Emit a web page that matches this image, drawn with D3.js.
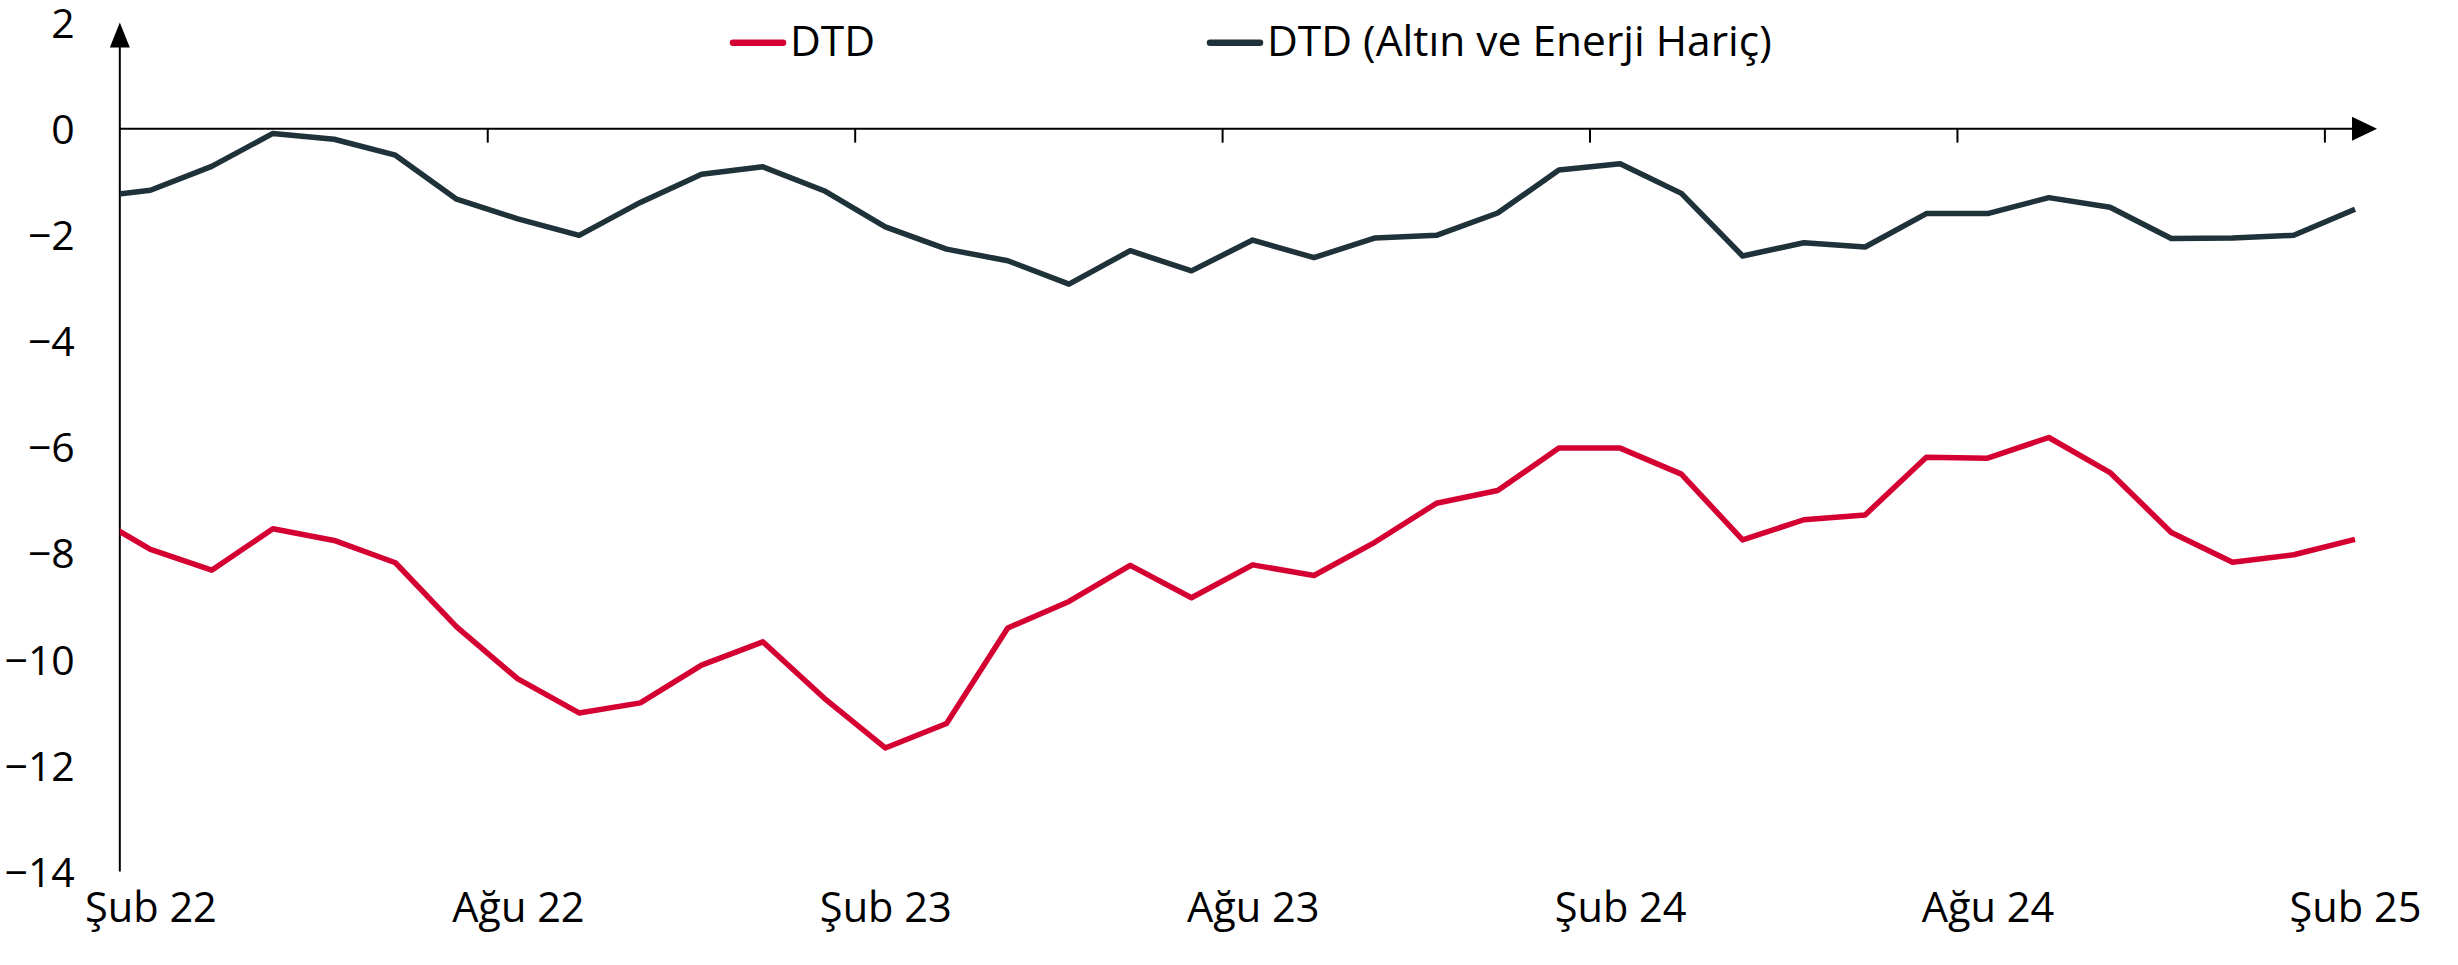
<!DOCTYPE html>
<html>
<head>
<meta charset="utf-8">
<script src="https://cdn.jsdelivr.net/npm/d3@7"></script>
<style>
  body { margin: 0; background: #fff; }
  svg text { font-family: "Open Sans", sans-serif; fill: #000; }
</style>
</head>
<body>
<svg id="chart"></svg>
<script>
// Aylar (ilk nokta Oca 22, eksen tarafından kırpılıyor)
const months = [
  "Oca 22", "Şub 22", "Mar 22", "Nis 22", "May 22", "Haz 22", "Tem 22", "Ağu 22", "Eyl 22", "Eki 22", "Kas 22", "Ara 22",
  "Oca 23", "Şub 23", "Mar 23", "Nis 23", "May 23", "Haz 23", "Tem 23", "Ağu 23", "Eyl 23", "Eki 23", "Kas 23", "Ara 23",
  "Oca 24", "Şub 24", "Mar 24", "Nis 24", "May 24", "Haz 24", "Tem 24", "Ağu 24", "Eyl 24", "Eki 24", "Kas 24", "Ara 24",
  "Oca 25", "Şub 25"
];

const dtd = [
  -7.25, -7.93, -8.32, -7.54, -7.76, -8.18, -9.39, -10.37, -11.01, -10.82, -10.11, -9.67,
  -10.73, -11.67, -11.21, -9.41, -8.91, -8.23, -8.84, -8.22, -8.42, -7.79, -7.06, -6.82,
  -6.02, -6.02, -6.51, -7.75, -7.37, -7.28, -6.19, -6.21, -5.82, -6.48, -7.61, -8.17,
  -8.03, -7.74
];

const dtdCore = [
  -1.30, -1.16, -0.71, -0.09, -0.20, -0.50, -1.33, -1.70, -2.01, -1.39, -0.86, -0.72,
  -1.17, -1.85, -2.27, -2.49, -2.93, -2.30, -2.68, -2.10, -2.43, -2.06, -2.01, -1.59,
  -0.78, -0.66, -1.22, -2.40, -2.15, -2.23, -1.60, -1.60, -1.30, -1.48, -2.07, -2.06,
  -2.01, -1.52
];

const yTicks = [2, 0, -2, -4, -6, -8, -10, -12, -14];
const labelMonths = ["Şub 22", "Ağu 22", "Şub 23", "Ağu 23", "Şub 24", "Ağu 24", "Şub 25"];

const series = [
  { name: "DTD", values: dtd, color: "#d50032" },
  { name: "DTD (Altın ve Enerji Hariç)", values: dtdCore, color: "#1f3139" }
];

const width = 2458;
const height = 965;

const svg = d3.select("#chart")
  .attr("width", width)
  .attr("height", height);

// Ölçekler
const x = d3.scaleLinear().domain([0, months.length - 1]).range([89.2, 2355]);
const y = d3.scaleLinear().domain([-14, 2]).range([871.6, 22.5]);

const axisX = x(0.5);          // y ekseninin geçtiği yer
const xEnd = x(months.length - 1) + 22;

// Çizgiler için kırpma alanı
svg.append("defs").append("clipPath")
  .attr("id", "plot-clip")
  .append("rect")
  .attr("x", axisX)
  .attr("y", 0)
  .attr("width", width - axisX)
  .attr("height", height);

// Y ekseni etiketleri
const yAxis = svg.append("g")
  .attr("transform", `translate(${axisX},0)`)
  .call(d3.axisLeft(y).tickValues(yTicks).tickSize(0).tickPadding(45).tickFormat(d3.format("d")));
yAxis.select(".domain").remove();
yAxis.selectAll("text")
  .attr("font-size", 41)
  .attr("dy", "0.36em");

// X ekseni tik çizgileri (kategoriler arası)
const tickIdx = labelMonths.slice(1).map(m => months.indexOf(m) - 0.5);
const xTicks = svg.append("g")
  .attr("transform", `translate(0,${y(0)})`)
  .call(d3.axisBottom(x).tickValues(tickIdx).tickSize(14).tickFormat(""));
xTicks.select(".domain").remove();
xTicks.selectAll("line").attr("stroke", "#000").attr("stroke-width", 2);

// X ekseni etiketleri (kategori ortası)
const labelIdx = labelMonths.map(m => months.indexOf(m));
const xLabels = svg.append("g")
  .attr("transform", `translate(0,${y(-14)})`)
  .call(d3.axisBottom(x).tickValues(labelIdx).tickSize(0).tickPadding(50)
    .tickFormat(i => months[i]));
xLabels.select(".domain").remove();
xLabels.selectAll("text")
  .attr("font-size", 41.5)
  .attr("dy", "0");

// Eksen çizgileri ve oklar
svg.append("line")
  .attr("x1", axisX).attr("x2", xEnd - 24)
  .attr("y1", y(0)).attr("y2", y(0))
  .attr("stroke", "#000").attr("stroke-width", 2);

svg.append("path")
  .attr("d", `M${xEnd},${y(0)} L${xEnd - 25},${y(0) - 12} L${xEnd - 25},${y(0) + 12} Z`)
  .attr("fill", "#000");

svg.append("line")
  .attr("x1", axisX).attr("x2", axisX)
  .attr("y1", y(-14)).attr("y2", y(2) + 24)
  .attr("stroke", "#000").attr("stroke-width", 2);

svg.append("path")
  .attr("d", `M${axisX},${y(2)} L${axisX - 10},${y(2) + 25} L${axisX + 10},${y(2) + 25} Z`)
  .attr("fill", "#000");

// Seriler
const line = d3.line()
  .x((d, i) => x(i))
  .y(d => y(d));

svg.append("g")
  .attr("clip-path", "url(#plot-clip)")
  .selectAll("path")
  .data(series)
  .enter().append("path")
  .attr("d", d => line(d.values))
  .attr("fill", "none")
  .attr("stroke", d => d.color)
  .attr("stroke-width", 5.5)
  .attr("stroke-linejoin", "round");

// Lejant
const legendPos = [730, 1207];
const legend = svg.append("g");

legend.selectAll("line")
  .data(series)
  .enter().append("line")
  .attr("x1", (d, i) => legendPos[i] + 3)
  .attr("x2", (d, i) => legendPos[i] + 53)
  .attr("y1", 42.7).attr("y2", 42.7)
  .attr("stroke", d => d.color)
  .attr("stroke-width", 6.5)
  .attr("stroke-linecap", "round");

legend.selectAll("text")
  .data(series)
  .enter().append("text")
  .attr("x", (d, i) => legendPos[i] + 60)
  .attr("y", 55.5)
  .attr("font-size", 42.5)
  .text(d => d.name);
</script>
</body>
</html>
